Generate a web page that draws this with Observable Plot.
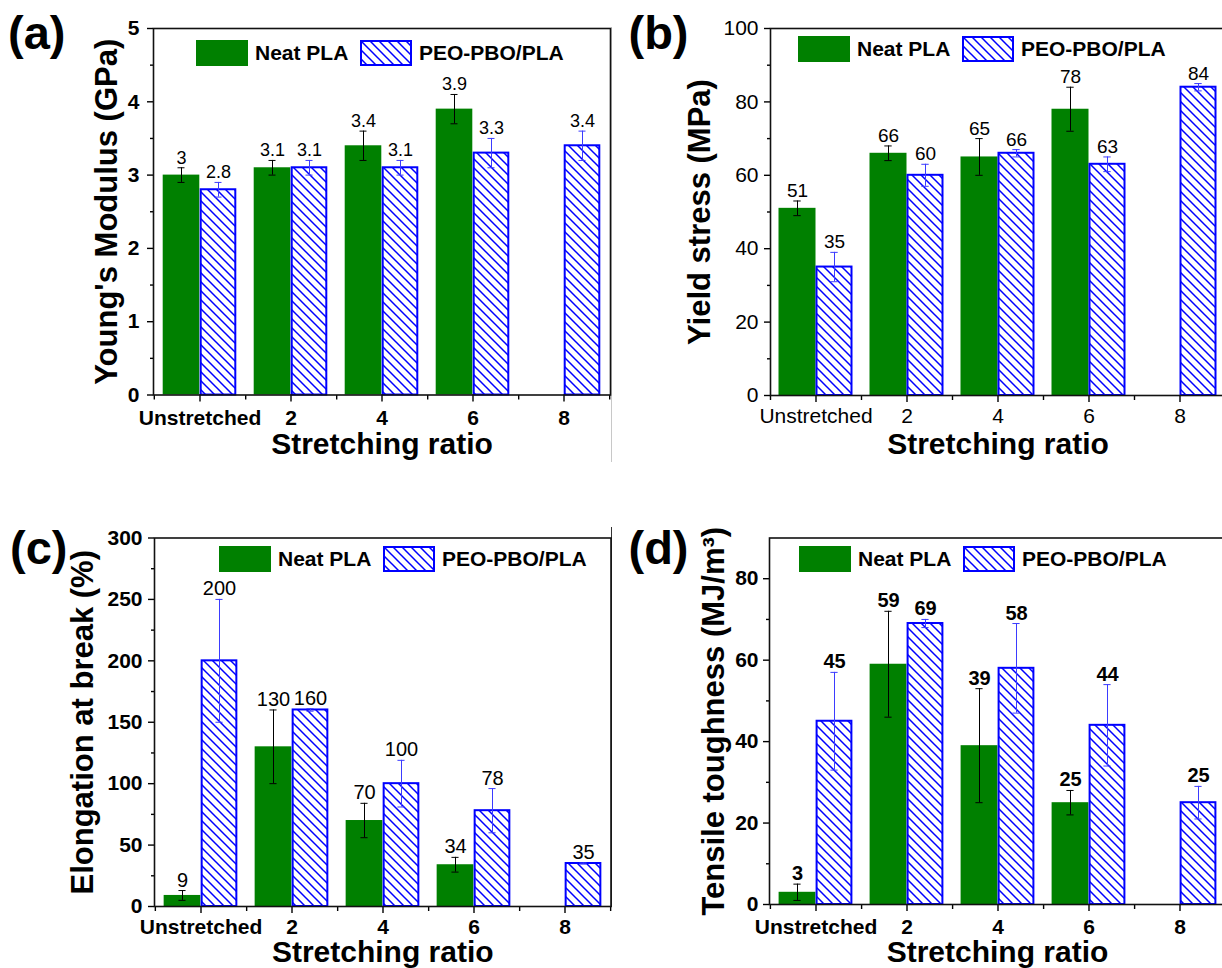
<!DOCTYPE html>
<html>
<head>
<meta charset="utf-8">
<script src="https://cdn.jsdelivr.net/npm/d3@7"></script>
<script src="https://cdn.jsdelivr.net/npm/@observablehq/plot@0.6"></script>
<style>
  html, body { margin: 0; padding: 0; background: #fff; }
  #root { position: relative; width: 1222px; height: 968px; overflow: hidden; background: #fff;
          font-family: "Liberation Sans", Arial, sans-serif; color: #000; }
  .panel { position: absolute; }
  .letter { position: absolute; font-weight: bold; font-size: 47px; line-height: 47px; white-space: nowrap; }
  .legtext { position: absolute; font-weight: bold; font-size: 21px; line-height: 26px; white-space: nowrap; }
  .swatch { position: absolute; }
  .edge { position: absolute; width: 1px; }
</style>
</head>
<body>
<svg width="0" height="0" style="position:absolute">
  <defs>
    <pattern id="hatch" patternUnits="userSpaceOnUse" width="9" height="9">
      <path d="M0,0L9,9M-1,8L1,10M8,-1L10,1" stroke="#0000ff" stroke-width="1.5" fill="none"/>
    </pattern>
  </defs>
</svg>
<div id="root">
  <div class="edge" style="left:611px;top:27px;height:435px;background:#c8c8c8"></div>
  <div class="edge" style="left:611px;top:527px;height:380px;background:#333"></div>
</div>
<script>
// ---------- data ----------
const categories = ["Unstretched", "2", "4", "6", "8"];
const seriesNames = ["Neat PLA", "PEO-PBO/PLA"];

// (a) Young's modulus, GPa
const modulusNeat     = [3, 3.1, 3.4, 3.9, null];
const modulusNeatErr  = [0.1, 0.1, 0.2, 0.2, null];
const modulusBlend    = [2.8, 3.1, 3.1, 3.3, 3.4];
const modulusBlendErr = [0.1, 0.1, 0.1, 0.2, 0.2];
const modulusTicks = [0, 1, 2, 3, 4, 5];
const modulusMinor = [0.5, 1.5, 2.5, 3.5, 4.5];

// (b) Yield stress, MPa
const yieldNeat     = [51, 66, 65, 78, null];
const yieldNeatErr  = [2, 2, 5, 6, null];
const yieldBlend    = [35, 60, 66, 63, 84];
const yieldBlendErr = [4, 3, 1, 2, 1];
const yieldTicks = [0, 20, 40, 60, 80, 100];
const yieldMinor = [10, 30, 50, 70, 90];

// (c) Elongation at break, %
const elongNeat     = [9, 130, 70, 34, null];
const elongNeatErr  = [4, 30, 14, 6, null];
const elongBlend    = [200, 160, 100, 78, 35];
const elongBlendErr = [50, 1, 19, 18, 0.5];
const elongTicks = [0, 50, 100, 150, 200, 250, 300];
const elongMinor = [25, 75, 125, 175, 225, 275];

// (d) Tensile toughness, MJ/m3
const toughNeat     = [3, 59, 39, 25, null];
const toughNeatErr  = [2, 13, 14, 3, null];
const toughBlend    = [45, 69, 58, 44, 25];
const toughBlendErr = [12, 1, 11, 10, 4];
const toughTicks = [0, 20, 40, 60, 80];
const toughMinor = [10, 30, 50, 70];

const GREEN = "#008000";
const BLUE = "#0000ff";
const FONT = "Liberation Sans, Arial, sans-serif";

const root = document.getElementById("root");

function rowsOf(neat, neatErr, blend, blendErr) {
  return categories.map((c, i) => ({cat: c, neat: neat[i], neatErr: neatErr[i], blend: blend[i], blendErr: blendErr[i]}));
}

function panel(o) {
  const rows = rowsOf(o.neat, o.neatErr, o.blend, o.blendErr);
  const neat = rows.filter(d => d.neat != null);
  const bw = (o.width - o.ml - o.mr) / categories.length;
  const half = bw / 2, BW = 37, off = 18.5, cap = 3.7;
  const tickW = o.tickBold ? "bold" : "normal";
  const valW = o.valBold ? "bold" : "normal";
  const minorSym = {draw(ctx) { ctx.moveTo(0, 0); ctx.lineTo(0, 4.5); }};
  const chart = Plot.plot({
    width: o.width, height: o.height,
    marginLeft: o.ml, marginRight: o.mr, marginTop: o.mt, marginBottom: o.mb,
    x: {type: "band", domain: categories, padding: 0, axis: null},
    y: {domain: o.domain, axis: null},
    style: {background: "transparent", overflow: "visible", fontFamily: FONT, color: "#000", maxWidth: "none"},
    marks: [
      // bars
      Plot.barY(neat, {x: "cat", y: "neat", fill: GREEN, insetLeft: half - BW, insetRight: half}),
      Plot.barY(rows, {x: "cat", y: "blend", fill: "url(#hatch)", stroke: BLUE, strokeWidth: 2,
                       insetLeft: half + 1, insetRight: half - BW + 1}),
      // error bars
      Plot.ruleX(neat, {x: "cat", y1: d => d.neat - d.neatErr, y2: d => d.neat + d.neatErr, dx: -off, stroke: "#000", strokeWidth: 1}),
      Plot.tickY(neat, {x: "cat", y: d => d.neat + d.neatErr, insetLeft: half - off - cap, insetRight: half + off - cap, stroke: "#000", strokeWidth: 1}),
      Plot.tickY(neat, {x: "cat", y: d => d.neat - d.neatErr, insetLeft: half - off - cap, insetRight: half + off - cap, stroke: "#000", strokeWidth: 1}),
      Plot.ruleX(rows, {x: "cat", y1: d => d.blend - d.blendErr, y2: d => d.blend + d.blendErr, dx: off, stroke: "#3b3bff", strokeWidth: 1}),
      Plot.tickY(rows, {x: "cat", y: d => d.blend + d.blendErr, insetLeft: half + off - cap, insetRight: half - off - cap, stroke: "#3b3bff", strokeWidth: 1}),
      Plot.tickY(rows, {x: "cat", y: d => d.blend - d.blendErr, insetLeft: half + off - cap, insetRight: half - off - cap, stroke: "#3b3bff", strokeWidth: 1}),
      // value labels
      Plot.text(neat, {x: "cat", y: d => d.neat + d.neatErr, text: d => String(d.neat), dx: -off, dy: -4,
                       lineAnchor: "bottom", fontSize: o.valSize, fontWeight: valW, fill: "#000"}),
      Plot.text(rows, {x: "cat", y: d => d.blend + d.blendErr, text: d => String(d.blend), dx: off, dy: -4,
                       lineAnchor: "bottom", fontSize: o.valSize, fontWeight: valW, fill: "#000"}),
      // axes
      Plot.axisY({ticks: o.ticks, tickFormat: d => String(d), tickSize: 6, tickPadding: o.yPad, fontSize: 21, fontWeight: tickW, label: null, strokeWidth: 1.4}),
      Plot.axisY({ticks: o.minor, tickSize: 3, text: null, label: null, strokeWidth: 1.4}),
      Plot.axisX({ticks: categories, tickSize: 7, tickPadding: o.xPad, fontSize: 21, fontWeight: tickW, label: null, strokeWidth: 1.4}),
      Plot.dot(categories, {x: d => d, frameAnchor: "bottom", symbol: minorSym, r: 4, dx: half, stroke: "#000", fill: "none", strokeWidth: 1.4}),
      Plot.dot(categories.slice(0, 1), {x: d => d, frameAnchor: "bottom", symbol: minorSym, r: 4, dx: -half, stroke: "#000", fill: "none", strokeWidth: 1.4}),
      Plot.frame({stroke: "#111", strokeWidth: 1.6}),
      // axis titles
      Plot.text([o.ytitle], {text: d => d, frameAnchor: "left", textAnchor: "middle", rotate: -90, dx: o.ytDx, fontSize: 31, fontWeight: "bold", fill: "#000"}),
      Plot.text(["Stretching ratio"], {text: d => d, frameAnchor: "bottom", textAnchor: "middle", lineAnchor: "bottom", dy: o.xtDy, fontSize: 30, fontWeight: "bold", fill: "#000"})
    ]
  });
  chart.classList.add("panel");
  chart.style.left = o.left + "px";
  chart.style.top = o.top + "px";
  root.appendChild(chart);

  // panel letter
  const L = document.createElement("div");
  L.className = "letter";
  L.textContent = o.letter;
  L.style.left = o.letterX + "px";
  L.style.top = o.letterY + "px";
  root.appendChild(L);

  // legend
  const lx = o.legX, ly = o.legY;
  const g = document.createElement("div");
  g.className = "swatch";
  Object.assign(g.style, {left: lx + "px", top: ly + "px", width: "52px", height: "26px", background: GREEN});
  root.appendChild(g);
  const t1 = document.createElement("div");
  t1.className = "legtext"; t1.textContent = seriesNames[0];
  Object.assign(t1.style, {left: (lx + 59) + "px", top: ly + "px"});
  root.appendChild(t1);
  const hs = document.createElementNS("http://www.w3.org/2000/svg", "svg");
  hs.setAttribute("width", 52); hs.setAttribute("height", 26);
  hs.setAttribute("class", "swatch");
  hs.style.left = (lx + 164) + "px"; hs.style.top = ly + "px";
  hs.innerHTML = '<rect x="1" y="1" width="50" height="24" fill="url(#hatch)" stroke="' + BLUE + '" stroke-width="2"/>';
  root.appendChild(hs);
  const t2 = document.createElement("div");
  t2.className = "legtext"; t2.textContent = seriesNames[1];
  Object.assign(t2.style, {left: (lx + 223) + "px", top: ly + "px"});
  root.appendChild(t2);
}

panel({letter: "(a)", letterX: 8, letterY: 9, left: 0, top: 0, width: 611, height: 484,
  ml: 153, mr: 1, mt: 28, mb: 89.5, domain: [0, 5], ticks: modulusTicks, minor: modulusMinor,
  neat: modulusNeat, neatErr: modulusNeatErr, blend: modulusBlend, blendErr: modulusBlendErr,
  tickBold: true, valBold: false, valSize: 18, yPad: 8, xPad: 8,
  ytitle: "Young's Modulus (GPa)", ytDx: -46, xtDy: 58.5, legX: 196, legY: 40});

panel({letter: "(b)", letterX: 628.5, letterY: 9, left: 611, top: 0, width: 616, height: 484,
  ml: 159, mr: 2, mt: 28, mb: 89, domain: [0, 100], ticks: yieldTicks, minor: yieldMinor,
  neat: yieldNeat, neatErr: yieldNeatErr, blend: yieldBlend, blendErr: yieldBlendErr,
  tickBold: false, valBold: false, valSize: 19, yPad: 6, xPad: 6,
  ytitle: "Yield stress (MPa)", ytDx: -70, xtDy: 58, legX: 798, legY: 36});

panel({letter: "(c)", letterX: 10, letterY: 524, left: 0, top: 484, width: 611, height: 484,
  ml: 154, mr: 0.5, mt: 53.5, mb: 62, domain: [0, 300], ticks: elongTicks, minor: elongMinor,
  neat: elongNeat, neatErr: elongNeatErr, blend: elongBlend, blendErr: elongBlendErr,
  tickBold: true, valBold: false, valSize: 20, yPad: 6, xPad: 6,
  ytitle: "Elongation at break (%)", ytDx: -71, xtDy: 55, legX: 219, legY: 546});

panel({letter: "(d)", letterX: 628.5, letterY: 524, left: 611, top: 484, width: 616, height: 484,
  ml: 158, mr: 2, mt: 53.5, mb: 64, domain: [0, 90], ticks: toughTicks, minor: toughMinor,
  neat: toughNeat, neatErr: toughNeatErr, blend: toughBlend, blendErr: toughBlendErr,
  tickBold: true, valBold: true, valSize: 20, yPad: 5, xPad: 8,
  ytitle: "Tensile toughness (MJ/m³)", ytDx: -55, xtDy: 57, legX: 799, legY: 546});
</script>
</body>
</html>
